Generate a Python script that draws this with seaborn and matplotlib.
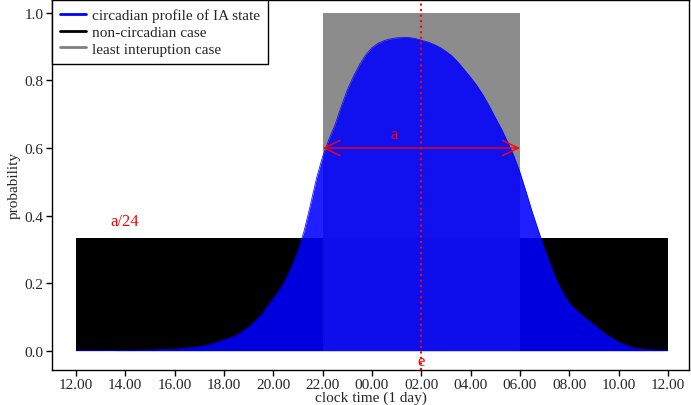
import matplotlib
matplotlib.use("Agg")
import matplotlib.pyplot as plt
from matplotlib.lines import Line2D
import seaborn as sns
import pandas as pd

sns.set_style("ticks")
plt.rcParams["font.family"] = ["Liberation Serif", "DejaVu Serif"]
plt.rcParams["font.size"] = 11

# === DATA ===
# hours since 12.00 (noon) and the circadian probability
hours = [0.0, 1.0, 2.0, 3.0, 4.0, 5.0, 5.5, 6.0, 6.5, 7.0, 7.5,
         8.0, 8.25, 8.5, 8.75, 9.0, 9.25, 9.5, 9.75, 10.0, 10.25, 10.5, 10.75,
         11.0, 11.25, 11.5, 11.75, 12.0, 12.25, 12.5, 12.75, 13.0, 13.25,
         13.5, 13.75, 14.0, 14.25, 14.5, 14.75, 15.0, 15.25, 15.5, 15.75,
         16.0, 16.25, 16.5, 16.75, 17.0, 17.25, 17.5, 17.75, 18.0, 18.25,
         18.5, 18.75, 19.0, 19.25, 19.5, 19.75, 20.0,
         20.5, 21.0, 21.5, 22.0, 22.5, 23.0, 23.5, 24.0]
probability = [0.0, 0.0, 0.001, 0.002, 0.005, 0.012, 0.02, 0.032, 0.045, 0.07,
               0.105,
               0.155, 0.18, 0.21, 0.25, 0.295, 0.355, 0.43, 0.51, 0.575, 0.625,
               0.668, 0.722, 0.772, 0.812, 0.847, 0.876, 0.897, 0.91, 0.918,
               0.923, 0.926, 0.927, 0.927, 0.924, 0.919, 0.914, 0.907, 0.898,
               0.886, 0.872, 0.853, 0.831, 0.809, 0.785, 0.757, 0.725, 0.69,
               0.656, 0.618, 0.577, 0.528, 0.47, 0.41, 0.355, 0.30, 0.25,
               0.205, 0.17, 0.14,
               0.105, 0.077, 0.047, 0.025, 0.01, 0.004, 0.002, 0.0]

# non-circadian case: uniform a/24 over the day
flat_start, flat_end, flat_level = 0, 24, 1 / 3
# least interruption case: window 22.00 -> 06.00
window_start, window_end, window_level = 10, 18, 1.0
peak_hour = 14  # 02.00

tick_hours = list(range(0, 25, 2))
tick_labels = ["12.00", "14.00", "16.00", "18.00", "20.00", "22.00", "00.00",
               "02.00", "04.00", "06.00", "08.00", "10.00", "12.00"]

df = pd.DataFrame({"hour": hours, "probability": probability})

# === PLOT ===
fig = plt.figure(figsize=(6.91, 4.06), dpi=100)
ax = fig.add_axes([0.0753, 0.087, 0.9217, 0.9105])

ax.bar((flat_start + flat_end) / 2, flat_level, width=flat_end - flat_start,
       color="black", linewidth=0, zorder=1)
ax.bar((window_start + window_end) / 2, window_level,
       width=window_end - window_start, color="gray", alpha=0.9,
       linewidth=0, zorder=2)

ax.fill_between(df["hour"], 0, df["probability"], color="blue", alpha=0.88,
                linewidth=0, zorder=3)
sns.lineplot(data=df, x="hour", y="probability", color="blue", alpha=0.88,
             linewidth=0.6, ax=ax, zorder=3)

# annotations
ax.axvline(peak_hour, color="red", linestyle=":", linewidth=1.5, zorder=4)
ax.annotate("", xy=(window_start, 0.6), xytext=(window_end, 0.6),
            arrowprops=dict(arrowstyle="<->,head_length=1.15,head_width=0.55",
                            color="red", lw=1, mutation_scale=10,
                            shrinkA=0, shrinkB=0), zorder=5)
ax.text(12.9, 0.64, "a", color="red", ha="center", va="center", fontsize=12)
ax.text(1.38, 0.385, "a/24", color="red", ha="left", va="center", fontsize=12)
ax.text(peak_hour, -0.03, "e", color="red", ha="center", va="center",
        fontsize=12)

ax.set_xlim(-0.97, 24.85)
ax.set_ylim(-0.056, 1.038)
ax.set_xticks(tick_hours)
ax.set_xticklabels(tick_labels)
ax.set_yticks([0.0, 0.2, 0.4, 0.6, 0.8, 1.0])
ax.set_yticklabels(["0.0", "0.2", "0.4", "0.6", "0.8", "1.0"])
ax.tick_params(axis="both", length=4, width=1, pad=2, labelsize=11,
               color="black")
ax.set_xlabel("clock time (1 day)", labelpad=0)
ax.set_ylabel("probability", labelpad=3)
for s in ax.spines.values():
    s.set_color("black")
    s.set_linewidth(1)

handles = [Line2D([], [], color="blue", lw=2),
           Line2D([], [], color="black", lw=2),
           Line2D([], [], color="gray", lw=2)]
leg = ax.legend(handles, ["circadian profile of IA state", "non-circadian case",
                          "least interuption case"],
                loc="upper left", borderaxespad=0, fancybox=False,
                framealpha=1, edgecolor="black", fontsize=11,
                handlelength=1.7, handletextpad=0.35, borderpad=0.55,
                labelspacing=0.2)
leg.get_frame().set_linewidth(1)

fig.savefig("out.png", dpi=100)
